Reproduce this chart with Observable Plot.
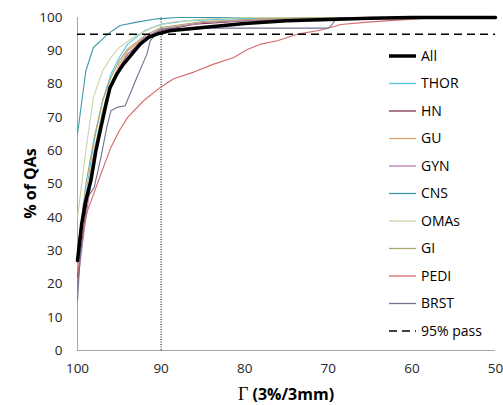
<!DOCTYPE html>
<html><head><meta charset="utf-8">
<script src="https://cdn.jsdelivr.net/npm/d3@7"></script>
<script src="https://cdn.jsdelivr.net/npm/@observablehq/plot@0.6"></script>
<style>
body{margin:0;background:#fff;}
#wrap{position:relative;width:503px;height:405px;}
#legend{position:absolute;left:0;top:0;}
</style></head><body><div id="wrap"></div>
<script>
// ---- data ----
const seriesNames = ["All","THOR","HN","GU","GYN","CNS","OMAs","GI","PEDI","BRST"];
const seriesColors = ["#000000","#55c6e2","#7d3548","#dba86e","#b47cb4","#3b98a8","#c7d3ab","#aaa46e","#d46a6c","#727292"];
const xTicks = [100,90,80,70,60,50];
const yTicks = [0,10,20,30,40,50,60,70,80,90,100];
const passLevel = 95;
const gammaRef = 90;

const gAll  = [100,99.5,99,98.4,97.8,97.2,96.5,96.1,95.3,94.5,93.5,92.5,91.5,90.5,89,85,80,75,70,65,60,50];
const pAll  = [27,38,45,51,60,67,75,79,83,86,89,92,94,95,96,97,98.2,99,99.4,99.8,100,100];
const gTHOR = [100,99,98,97,96,95,94,92,90,87,82,75,50];
const pTHOR = [28,47,63,75,83,88,92,96,98,99,99.6,100,100];
const gHN   = [100,99,98,97,96,95,94,92,90,86,80,70,60,50];
const pHN   = [22,42,58,70,79,85,89,93,96,98,99,99.7,100,100];
const gGU   = [100,99,98,97,96,95,94,92,90,85,78,70,50];
const pGU   = [25,45,60,72,80,86,90,94,96.5,98.5,99.5,100,100];
const gGYN  = [100,99,98,97,96,95,94,92,90,85,75,65,50];
const pGYN  = [20,40,57,69,79,85,89,94,96.5,98.5,99.5,100,100];
const gCNS  = [100,99,98.1,97,96.4,94.9,92.9,90.5,88,50];
const pCNS  = [65,84,91,93.5,95,97.6,98.6,99.6,100,100];
const gOMAs = [100,99,98.1,97,96,95,93,91,89,85,80,50];
const pOMAs = [40,60,76,84,88,91,94.5,97,98.5,99.5,100,100];
const gGI   = [100,99,98,97,96,95,94,92,90,85,78,70,50];
const pGI   = [30,50,64,75,82,87,90.5,94.5,97,98.8,99.6,100,100];
const gPEDI = [100,99.6,98.8,97.2,96,95,94,92.1,90.1,88.5,86.1,83.7,81.3,79.7,78.1,76.1,73.7,71.3,69.7,68.5,65.3,61.4,59.4,57,50];
const pPEDI = [18,33,42,53,61,66,70,75,79,81.6,83.6,86,88,90.4,92,93,95,96,97,97.9,98.6,99.3,99.6,100,100];
const gBRST = [100,99.3,98,97.2,96.5,96,95.3,94.3,92.9,91.7,91.3,90.5,90,85,75,70,69.5,69,50];
const pBRST = [15,44,49,58,67,72,73,73.5,82,89,93,95.6,96.5,96.8,96.8,96.8,98,100,100];

const gammaArrays = [gAll,gTHOR,gHN,gGU,gGYN,gCNS,gOMAs,gGI,gPEDI,gBRST];
const pctArrays   = [pAll,pTHOR,pHN,pGU,pGYN,pCNS,pOMAs,pGI,pPEDI,pBRST];

// ---- build table ----
const rows = [];
seriesNames.forEach((s,i) => gammaArrays[i].forEach((g,j) => rows.push({series:s, gamma:g, pct:pctArrays[i][j]})));
const others = rows.filter(d => d.series !== "All");
const allRows = rows.filter(d => d.series === "All");

const font = "'Open Sans', sans-serif";
const chart = Plot.plot({
  width: 503, height: 405,
  marginLeft: 77, marginRight: 8, marginTop: 17, marginBottom: 55,
  style: {fontFamily: font, fontSize: "13.5px", color: "#262626", background: "#fff"},
  x: {domain: [100, 50]},
  y: {domain: [0, 100]},
  color: {domain: seriesNames, range: seriesColors},
  marks: [
    Plot.axisX({ticks: xTicks, tickSize: 0, tickPadding: 13, label: null}),
    Plot.axisY({ticks: yTicks, tickSize: 0, tickPadding: 15, label: null}),
    Plot.ruleX([100], {y1: 0, y2: 100, stroke: "#a6a6a6", strokeWidth: 1}),
    Plot.ruleY([0], {stroke: "#a6a6a6", strokeWidth: 1}),
    Plot.ruleX([gammaRef], {y1: 0, y2: 100, stroke: "#000", strokeWidth: 1, strokeDasharray: "1,1.5"}),
    Plot.line(others, {x: "gamma", y: "pct", z: "series", stroke: "series", strokeWidth: 1.1}),
    Plot.line(allRows, {x: "gamma", y: "pct", stroke: "#000", strokeWidth: 3.5}),
    Plot.ruleY([passLevel], {stroke: "#000", strokeWidth: 1.5, strokeDasharray: "8,5"})
  ]
});
document.getElementById("wrap").appendChild(chart);

// ---- axis titles ----
const svg = d3.select(chart);
const xt = svg.append("text").attr("x", (77+495)/2).attr("y", 400)
  .attr("text-anchor","middle").attr("fill","#000")
  .style("font-family", font).style("font-size","16px").style("font-weight","bold");
xt.append("tspan").text("Γ").style("font-family","'Liberation Serif', serif").style("font-weight","normal").style("font-size","18px");
xt.append("tspan").text(" (3%/3mm)");
svg.append("text").attr("transform", `translate(36,${(17+350)/2}) rotate(-90)`)
  .attr("text-anchor","middle").attr("fill","#000")
  .style("font-family", font).style("font-size","16px").style("font-weight","bold")
  .text("% of QAs");

// ---- legend overlay ----
const legendItems = seriesNames.map((s,i) => ({name: s, color: seriesColors[i], width: s === "All" ? 3.5 : 1.3, dash: null}))
  .concat([{name: "95% pass", color: "#000", width: 1.5, dash: "8,5"}]);
const lg = d3.select("#wrap").append("svg").attr("id","legend").attr("width",503).attr("height",405);
legendItems.forEach((d,i) => {
  const y = 56 + i*27.5;
  lg.append("line").attr("x1", 389).attr("x2", 416).attr("y1", y).attr("y2", y)
    .attr("stroke", d.color).attr("stroke-width", d.width).attr("stroke-dasharray", d.dash);
  lg.append("text").attr("x", 421).attr("y", y).attr("dy","0.35em")
    .style("font-family", font).style("font-size","14px").attr("fill","#000").text(d.name);
});
</script></body></html>
